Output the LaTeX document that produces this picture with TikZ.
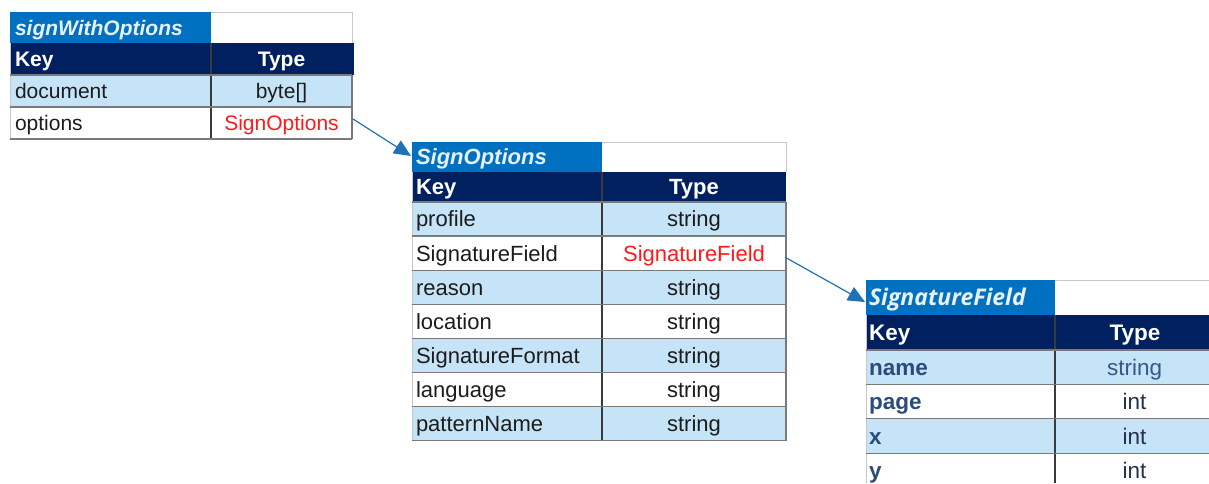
\documentclass[tikz,border=0pt]{standalone}
\usepackage{fontspec}
\setmainfont{Liberation Sans}
\newfontfamily\hdfont{Open Sans}
\usetikzlibrary{arrows.meta}

\definecolor{titleblue}{HTML}{0070C0}
\definecolor{navy}{HTML}{002060}
\definecolor{rowblue}{HTML}{C5E4F7}
\definecolor{gridgray}{HTML}{7A7A7A}
\definecolor{edgegray}{HTML}{C8C8C8}
\definecolor{divgray}{HTML}{3A3A3A}
\definecolor{typered}{HTML}{FF1A1A}
\definecolor{titletxt}{HTML}{E8F1FA}
\definecolor{linkblue}{HTML}{1F72B8}
\definecolor{bodytxt}{HTML}{1C1C1C}
\definecolor{sfkey}{HTML}{2A4B7C}
\definecolor{sfstr}{HTML}{34588C}
\definecolor{sfint}{HTML}{24314D}

\tikzset{
  cellbox/.style={draw=none, inner sep=0pt, outer sep=0pt, anchor=north west},
  txt/.style={inner sep=0pt, outer sep=0pt, text=bodytxt},
  hdtxt/.style={txt, text=white, font=\bfseries},
  tttxt/.style={txt, text=titletxt, font=\bfseries\itshape},
  rowline/.style={draw=gridgray, line width=1.3pt},
  divline/.style={draw=divgray, line width=1.3pt},
  edgeline/.style={draw=edgegray, line width=1pt},
  link/.style={draw=linkblue, line width=1.2pt, -{Triangle[length=17pt,width=15pt]}}
}

\begin{document}
\begin{tikzpicture}[x=1pt, y=-1pt]
\useasboundingbox (0,0) rectangle (1209,483);
\clip (0,0) rectangle (1209,483);

% ---------- signWithOptions ----------
\begin{scope}
  \fontsize{21}{25}\selectfont
  \node[cellbox, fill=titleblue, minimum width=201, minimum height=31] (t1title) at (10,12) {};
  \node[cellbox, fill=white, minimum width=141, minimum height=31] (t1blank) at (211,12) {};
  \node[cellbox, fill=navy, minimum width=344, minimum height=32] (t1head) at (10,43) {};
  \node[tttxt, anchor=base west] (t1titlet) at ([xshift=5pt, yshift=-7.6pt]t1title.west) {signWithOptions};
  \node[hdtxt, anchor=base west] (t1keyh) at ([xshift=5pt, yshift=-7.6pt]t1head.west) {Key};
  \node[hdtxt, anchor=base] (t1typeh) at ([yshift=-7.6pt]281.5,59) {Type};
  \foreach \k/\t/\f/\c [count=\i from 0] in {document/byte[]/rowblue/bodytxt, options/SignOptions/white/typered}{
    \pgfmathsetmacro\ya{75+32*\i}
    \node[cellbox, fill=\f, minimum width=201, minimum height=32] (t1k\i) at (10,\ya) {};
    \node[cellbox, fill=\f, minimum width=141, minimum height=32] (t1v\i) at (211,\ya) {};
    \node[txt, anchor=base west] (t1kt\i) at ([xshift=5pt, yshift=-7.6pt]t1k\i.west) {\k};
    \node[txt, text=\c, anchor=base] (t1vt\i) at ([yshift=-7.6pt]t1v\i.center) {\t};
  }
\end{scope}
\draw[edgeline] (211,12) -- (352,12) -- (352,43);
\draw[edgeline] (10,43) -- (10,139);
\draw[divline] (211,43) -- (211,139);
\draw[rowline] (10,75) -- (352,75);
\draw[rowline] (10,107) -- (352,107);
\draw[rowline] (10,139) -- (352,139);
\draw[draw=gridgray, line width=1.3pt] (352,75) -- (352,139);

% ---------- SignOptions ----------
\begin{scope}
  \fontsize{22}{26}\selectfont
  \node[cellbox, fill=titleblue, minimum width=190, minimum height=30] (t2title) at (412,142) {};
  \node[cellbox, fill=white, minimum width=184, minimum height=30] (t2blank) at (602,142) {};
  \node[cellbox, fill=navy, minimum width=374, minimum height=30] (t2head) at (412,172) {};
  \node[tttxt, anchor=base west] (t2titlet) at ([xshift=4pt, yshift=-7.9pt]t2title.west) {SignOptions};
  \node[hdtxt, anchor=base west] (t2keyh) at ([xshift=4pt, yshift=-7.9pt]t2head.west) {Key};
  \node[hdtxt, anchor=base] (t2typeh) at ([yshift=-7.9pt]694,187) {Type};
  \foreach \k/\t/\f/\c [count=\i from 0] in {
      profile/string/rowblue/bodytxt,
      SignatureField/SignatureField/white/typered,
      reason/string/rowblue/bodytxt,
      location/string/white/bodytxt,
      SignatureFormat/string/rowblue/bodytxt,
      language/string/white/bodytxt,
      patternName/string/rowblue/bodytxt}{
    \pgfmathsetmacro\ya{202+34.1*\i}
    \node[cellbox, fill=\f, minimum width=190, minimum height=34.1] (t2k\i) at (412,\ya) {};
    \node[cellbox, fill=\f, minimum width=184, minimum height=34.1] (t2v\i) at (602,\ya) {};
    \node[txt, anchor=base west] (t2kt\i) at ([xshift=4pt, yshift=-7.9pt]t2k\i.west) {\k};
    \node[txt, text=\c, anchor=base] (t2vt\i) at ([yshift=-7.9pt]t2v\i.center) {\t};
  }
\end{scope}
\draw[edgeline] (602,142) -- (786,142) -- (786,172);
\draw[edgeline] (412,172) -- (412,441);
\draw[divline] (602,172) -- (602,441);
\foreach \i in {0,...,7}{
  \draw[rowline] (412,{202+34.1*\i}) -- (786,{202+34.1*\i});
}
\draw[draw=gridgray, line width=1.3pt] (786,202) -- (786,441);

% ---------- SignatureField ----------
\begin{scope}
  \fontsize{22.5}{27}\selectfont
  \node[cellbox, fill=titleblue, minimum width=189, minimum height=35] (t3title) at (866,280) {};
  \node[cellbox, fill=white, minimum width=160, minimum height=35] (t3blank) at (1055,280) {};
  \node[cellbox, fill=navy, minimum width=349, minimum height=35] (t3head) at (866,315) {};
  \node[tttxt, font=\hdfont\bfseries\itshape\fontsize{23}{27}\selectfont, anchor=base west] (t3titlet) at ([xshift=3pt, yshift=-8.2pt]t3title.west) {SignatureField};
  \node[hdtxt, anchor=base west] (t3keyh) at ([xshift=3pt, yshift=-8.1pt]t3head.west) {Key};
  \node[hdtxt, anchor=base] (t3typeh) at ([yshift=-8.1pt]1135,332.5) {Type};
  \foreach \k/\t/\f/\c [count=\i from 0] in {
      name/string/rowblue/sfstr,
      page/int/white/sfint,
      x/int/rowblue/sfint,
      y/int/white/sfint}{
    \pgfmathsetmacro\ya{350+34.4*\i}
    \node[cellbox, fill=\f, minimum width=189, minimum height=34.4] (t3k\i) at (866,\ya) {};
    \node[cellbox, fill=\f, minimum width=160, minimum height=34.4] (t3v\i) at (1055,\ya) {};
    \node[txt, text=sfkey, font=\bfseries, anchor=base west] (t3kt\i) at ([xshift=3pt, yshift=-8.1pt]t3k\i.west) {\k};
    \node[txt, text=\c, anchor=base] (t3vt\i) at ([xshift=-0.5pt, yshift=-8.1pt]t3v\i.center) {\t};
  }
\end{scope}
\draw[edgeline] (1055,280) -- (1209,280);
\draw[edgeline] (866,315) -- (866,483);
\draw[divline] (1055,315) -- (1055,483);
\foreach \i in {0,...,3}{
  \draw[rowline] (866,{350+34.4*\i}) -- (1209,{350+34.4*\i});
}

% ---------- links ----------
\draw[link] ([xshift=1pt, yshift=4pt]t1v1.east) -- ([xshift=-1pt, yshift=1pt]t2title.west);
\draw[link] ([xshift=-1pt, yshift=-4pt]t2v1.east) -- ([xshift=-1pt, yshift=-4.5pt]t3title.west);
\end{tikzpicture}
\end{document}
